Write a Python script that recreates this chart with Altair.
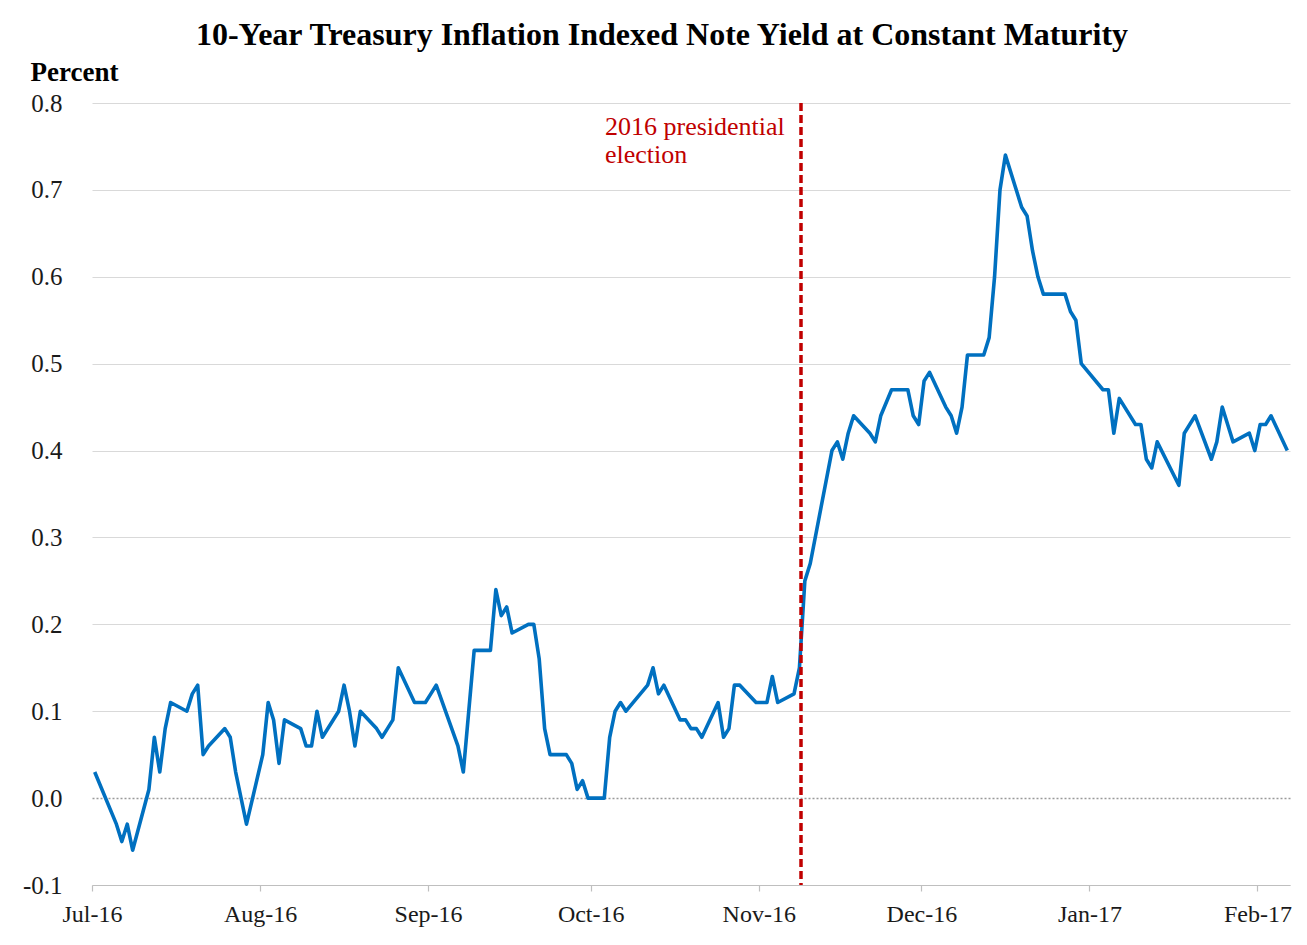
import altair as alt
import pandas as pd

# ---- data ----
dates = [
    "2016-07-01", "2016-07-05", "2016-07-06", "2016-07-07", "2016-07-08",
    "2016-07-11", "2016-07-12", "2016-07-13", "2016-07-14", "2016-07-15",
    "2016-07-18", "2016-07-19", "2016-07-20", "2016-07-21", "2016-07-22",
    "2016-07-25", "2016-07-26", "2016-07-27", "2016-07-28", "2016-07-29",
    "2016-08-01", "2016-08-02", "2016-08-03", "2016-08-04", "2016-08-05",
    "2016-08-08", "2016-08-09", "2016-08-10", "2016-08-11", "2016-08-12",
    "2016-08-15", "2016-08-16", "2016-08-17", "2016-08-18", "2016-08-19",
    "2016-08-22", "2016-08-23", "2016-08-24", "2016-08-25", "2016-08-26",
    "2016-08-29", "2016-08-30", "2016-08-31", "2016-09-01", "2016-09-02",
    "2016-09-06", "2016-09-07", "2016-09-08", "2016-09-09",
    "2016-09-12", "2016-09-13", "2016-09-14", "2016-09-15", "2016-09-16",
    "2016-09-19", "2016-09-20", "2016-09-21", "2016-09-22", "2016-09-23",
    "2016-09-26", "2016-09-27", "2016-09-28", "2016-09-29", "2016-09-30",
    "2016-10-03", "2016-10-04", "2016-10-05", "2016-10-06", "2016-10-07",
    "2016-10-11", "2016-10-12", "2016-10-13", "2016-10-14",
    "2016-10-17", "2016-10-18", "2016-10-19", "2016-10-20", "2016-10-21",
    "2016-10-24", "2016-10-25", "2016-10-26", "2016-10-27", "2016-10-28",
    "2016-10-31", "2016-11-01", "2016-11-02", "2016-11-03", "2016-11-04",
    "2016-11-07", "2016-11-08", "2016-11-09", "2016-11-10",
    "2016-11-14", "2016-11-15", "2016-11-16", "2016-11-17", "2016-11-18",
    "2016-11-21", "2016-11-22", "2016-11-23", "2016-11-25",
    "2016-11-28", "2016-11-29", "2016-11-30", "2016-12-01", "2016-12-02",
    "2016-12-05", "2016-12-06", "2016-12-07", "2016-12-08", "2016-12-09",
    "2016-12-12", "2016-12-13", "2016-12-14", "2016-12-15", "2016-12-16",
    "2016-12-19", "2016-12-20", "2016-12-21", "2016-12-22", "2016-12-23",
    "2016-12-27", "2016-12-28", "2016-12-29", "2016-12-30",
    "2017-01-03", "2017-01-04", "2017-01-05", "2017-01-06",
    "2017-01-09", "2017-01-10", "2017-01-11", "2017-01-12", "2017-01-13",
    "2017-01-17", "2017-01-18", "2017-01-19", "2017-01-20",
    "2017-01-23", "2017-01-24", "2017-01-25", "2017-01-26", "2017-01-27",
    "2017-01-30", "2017-01-31", "2017-02-01", "2017-02-02", "2017-02-03",
    "2017-02-06",
]

yields = [
    0.03, -0.03, -0.05, -0.03, -0.06,
    0.01, 0.07, 0.03, 0.08, 0.11,
    0.10, 0.12, 0.13, 0.05, 0.06,
    0.08, 0.07, 0.03, 0.00, -0.03,
    0.05, 0.11, 0.09, 0.04, 0.09,
    0.08, 0.06, 0.06, 0.10, 0.07,
    0.10, 0.13, 0.10, 0.06, 0.10,
    0.08, 0.07, 0.08, 0.09, 0.15,
    0.11, 0.11, 0.11, 0.12, 0.13,
    0.06, 0.03, 0.10, 0.17,
    0.17, 0.24, 0.21, 0.22, 0.19,
    0.20, 0.20, 0.16, 0.08, 0.05,
    0.05, 0.04, 0.01, 0.02, 0.00,
    0.00, 0.07, 0.10, 0.11, 0.10,
    0.13, 0.15, 0.12, 0.13,
    0.09, 0.09, 0.08, 0.08, 0.07,
    0.11, 0.07, 0.08, 0.13, 0.13,
    0.11, 0.11, 0.11, 0.14, 0.11,
    0.12, 0.15, 0.25, 0.27,
    0.40, 0.41, 0.39, 0.42, 0.44,
    0.42, 0.41, 0.44, 0.47,
    0.47, 0.44, 0.43, 0.48, 0.49,
    0.45, 0.44, 0.42, 0.45, 0.51,
    0.51, 0.53, 0.60, 0.70, 0.74,
    0.68, 0.67, 0.63, 0.60, 0.58,
    0.58, 0.56, 0.55, 0.50,
    0.47, 0.47, 0.42, 0.46,
    0.43, 0.43, 0.39, 0.38, 0.41,
    0.36, 0.42, 0.43, 0.44,
    0.39, 0.41, 0.45, 0.43, 0.41,
    0.42, 0.40, 0.43, 0.43, 0.44,
    0.40,
]
assert len(dates) == len(yields)

month_ticks = [(2016, 7), (2016, 8), (2016, 9), (2016, 10), (2016, 11),
               (2016, 12), (2017, 1), (2017, 2)]
y_ticks = [-0.1, 0.0, 0.1, 0.2, 0.3, 0.4, 0.5, 0.6, 0.7, 0.8]

event_date = ["2016-11-08T19:00:00"]
event_label = ["2016 presidential\nelection"]

title_text = "10-Year Treasury Inflation Indexed Note Yield at Constant Maturity"

# ---- tables ----
df = pd.DataFrame({"date": pd.to_datetime(dates) + pd.Timedelta(hours=12),
                   "yield": yields})
df["date"] = df["date"].dt.strftime("%Y-%m-%dT%H:%M:%S")
ev = pd.DataFrame({"date": event_date, "label": event_label})

W, H = 1198, 782
SERIF = "Liberation Serif"

x_scale = alt.Scale(domain=[alt.DateTime(year=2016, month=7, date=1),
                            alt.DateTime(year=2017, month=2, date=7)])
y_scale = alt.Scale(domain=[-0.1, 0.8], nice=False, zero=False)

x_axis = alt.Axis(
    title=None, format="%b-%y",
    values=[alt.DateTime(year=y, month=m, date=1) for y, m in month_ticks],
    grid=False, domainColor="#bfbfbf", domainWidth=1.2,
    tickColor="#bfbfbf", tickSize=6, tickWidth=1.2,
    labelFont=SERIF, labelFontSize=24, labelColor="#1a1a1a",
    labelPadding=11, labelFlush=False, labelOverlap=False,
)
y_axis = alt.Axis(
    title="Percent", titleAngle=0, titleAlign="left", titleBaseline="alphabetic",
    titleX=-62, titleY=-23, titleFont=SERIF, titleFontSize=27,
    titleFontWeight="bold", titleColor="#000000",
    values=y_ticks,
    labelExpr="datum.value < 0 ? '-' + format(-datum.value, '.1f') : format(datum.value, '.1f')",
    labelFont=SERIF, labelFontSize=25, labelColor="#1a1a1a", labelPadding=30,
    domain=False, ticks=False, tickSize=0,
    grid=True,
    gridColor=alt.condition("datum.value === 0", alt.value("#9a9a9a"), alt.value("#d9d9d9")),
    gridDash=alt.condition("datum.value === 0", alt.value([2, 2]), alt.value([])),
    gridWidth=alt.condition("datum.value === 0", alt.value(1.5), alt.value(1.2)),
)

line = alt.Chart(df).mark_line(color="#0070C0", strokeWidth=3.6,
                               strokeJoin="round").encode(
    x=alt.X("date:T", scale=x_scale, axis=x_axis),
    y=alt.Y("yield:Q", scale=y_scale, axis=y_axis),
)

rule = alt.Chart(ev).mark_rule(color="#C00000", strokeWidth=3.5,
                               strokeDash=[8, 4]).encode(
    x=alt.X("date:T", scale=x_scale),
    y=alt.value(0),
    y2=alt.value(H),
)

label = alt.Chart(ev).mark_text(
    align="left", baseline="alphabetic", dx=-196, dy=32,
    lineBreak="\n", lineHeight=28, font=SERIF, fontSize=26, color="#C00000",
).encode(
    x=alt.X("date:T", scale=x_scale),
    y=alt.value(0),
    text="label:N",
)

chart = alt.layer(line, rule, label).properties(
    width=W, height=H,
    autosize="none",
    padding={"left": 84, "top": 95, "right": 9, "bottom": 52},
    title=alt.TitleParams(title_text, font=SERIF, fontSize=32, fontWeight="bold",
                          color="#000000", anchor="middle", dx=-29, offset=6),
    background="white",
).configure_view(stroke=None)

chart.save("out.html", embed_options={"renderer": "svg", "actions": False})
